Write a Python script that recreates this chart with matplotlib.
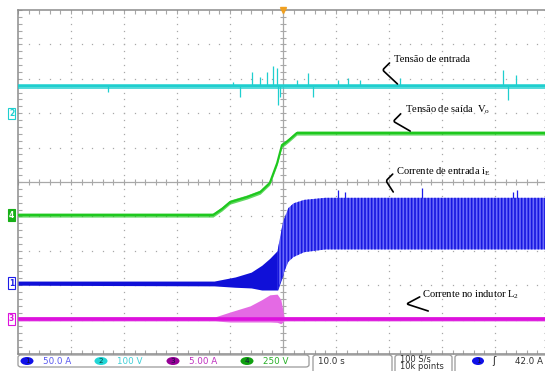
import numpy as np
import matplotlib.pyplot as plt
from matplotlib.patches import FancyBboxPatch, Ellipse

plt.rcParams['mathtext.fontset'] = 'custom'
plt.rcParams['mathtext.rm'] = 'Liberation Serif'
plt.rcParams['hatch.linewidth'] = 1.2

# scope channels: units per division and ground marker (div)
ch1_scale, ch1_pos = 50.0, -2.94    # input current, A
ch2_scale, ch2_pos = 100.0, 2.0     # input voltage, V
ch3_scale, ch3_pos = 5.0, -3.98     # inductor L2 current, A
ch4_scale, ch4_pos = 250.0, -0.96   # output voltage, V

# ch2 - input voltage (V)
vin_t = [-50, 50]
vin = [78, 78]
vin_noise = 8
vin_spike_t = [-33, -9.4, -8.1, -5.8, -4.3, -3.0, -1.9, -1.1, -0.9, -0.6, 2.6, 4.7, 5.7, 10.4, 12.3, 14.5, 22, 41.5, 42.4, 44]
vin_spike_v = [61, 90, 47, 119, 105, 119, 137, 131, 23, 47, 96, 116, 47, 96, 102, 96, 102, 125, 38, 110]

# ch4 - output voltage (V)
vo_t = [-50, -13.2, -11.5, -10, -6.8, -4.3, -2.5, -1.1, -0.2, 0.4, 1.3, 2.6, 50]
vo = [0, 0, 45, 94, 131, 167, 233, 378, 509, 523, 552, 596, 596]
vo_noise = 15

# ch1 - input current envelope (A)
ie_t = [-50, -13, -9, -6, -4, -2.5, -1, 0, 1, 2, 4, 8, 50]
ie_top = [3, 3, 9, 16, 26, 36, 48, 89, 109, 116, 121, 124, 124]
ie_bot = [-3, -4, -6, -7, -10, -10, -10, 12, 31, 38, 45, 49, 49]
ie_spike_t = [10.4, 11.7, 26.2, 43.4, 44.2]
ie_spike_v = [135, 132, 139, 133, 135]

# ch3 - inductor current (A)
il_t = [-50, -12.8, -10, -6.2, -4, -2.5, -1.1, -0.4, 0.2, 50]
il_top = [0.3, 0.3, 1.0, 1.9, 2.8, 3.5, 3.6, 2.8, 0.3, 0.3]
il_bot = [-0.3, -0.3, -0.45, -0.45, -0.45, -0.45, -0.5, -0.7, -0.3, -0.3]
il_noise = 0.3

c1, c2, c3, c4 = '#1c1ce8', '#1fcfcf', '#dd11dd', '#1ec81e'
grid_c = '#a8a8a8'


def to_div(v, scale, pos):
    return np.asarray(v, dtype=float) / scale + pos


fig = plt.figure(figsize=(5.45, 3.71), dpi=100)
ax = fig.add_axes([18 / 545, 17 / 371, 530 / 545, 344 / 371])
ax.set_xlim(-50, 50)
ax.set_ylim(-5, 5)

# graticule: dotted division lines, solid centre cross with minor ticks
xmin_ = np.arange(-50, 51, 2)
ymin_ = np.round(np.arange(-5, 5.01, 0.2), 2)
for gx in range(-40, 50, 10):
    if gx != 0:
        ax.plot(np.full(ymin_.size, gx), ymin_, ls='none', marker='s', ms=0.9, mew=0, color=grid_c, zorder=1)
for gy in range(-4, 5):
    if gy != 0:
        ax.plot(xmin_, np.full(xmin_.size, gy), ls='none', marker='s', ms=0.9, mew=0, color=grid_c, zorder=1)
ax.axhline(0, color=grid_c, lw=0.9, zorder=1)
ax.axvline(0, color=grid_c, lw=0.9, zorder=1)
ax.plot(xmin_, np.zeros(xmin_.size), ls='none', marker='|', ms=4, mew=0.8, color=grid_c, zorder=1)
ax.plot(np.zeros(ymin_.size), ymin_, ls='none', marker='_', ms=4, mew=0.8, color=grid_c, zorder=1)
ax.set_xticks(xmin_)
ax.set_yticks(ymin_)
ax.tick_params(direction='in', length=3, width=0.8, color=grid_c, labelbottom=False, labelleft=False,
               top=True, right=True)
for s in ax.spines.values():
    s.set_color('#8c8c8c')
    s.set_linewidth(1.1)

# ch2 input voltage
y2 = to_div(vin, ch2_scale, ch2_pos)
ax.fill_between(vin_t, to_div(np.array(vin) - vin_noise, ch2_scale, ch2_pos),
                to_div(np.array(vin) + vin_noise, ch2_scale, ch2_pos), color=c2, lw=0, alpha=0.75, zorder=3)
ax.plot(vin_t, y2, color=c2, lw=1.5, zorder=3)
ax.vlines(vin_spike_t, y2[0], to_div(vin_spike_v, ch2_scale, ch2_pos), color=c2, lw=0.9, zorder=3)

# ch4 output voltage
y4 = to_div(vo, ch4_scale, ch4_pos)
ax.fill_between(vo_t, to_div(np.array(vo) - vo_noise, ch4_scale, ch4_pos),
                to_div(np.array(vo) + vo_noise, ch4_scale, ch4_pos), color=c4, lw=0, alpha=0.7, zorder=3)
ax.plot(vo_t, y4, color=c4, lw=1.5, zorder=3)

# ch1 input current
t1 = np.array(ie_t, dtype=float)
top1 = to_div(ie_top, ch1_scale, ch1_pos)
bot1 = to_div(ie_bot, ch1_scale, ch1_pos)
ax.fill_between(t1, bot1, top1, where=t1 <= 0, color='#1010d8', lw=0, zorder=4)
ax.fill_between(t1, bot1, top1, where=t1 >= -1, facecolor='#6c6cfa', edgecolor='#1616e0',
                hatch='|||||', lw=0, zorder=4)
ax.vlines(ie_spike_t, top1[-1], to_div(ie_spike_v, ch1_scale, ch1_pos), color=c1, lw=0.9, zorder=4)

# ch3 inductor current
t3 = np.array(il_t, dtype=float)
ax.fill_between(t3, to_div(il_bot, ch3_scale, ch3_pos), to_div(il_top, ch3_scale, ch3_pos),
                color='#e46ae4', lw=0, zorder=3)
ax.fill_between([-50, 50], to_div([-il_noise] * 2, ch3_scale, ch3_pos),
                to_div([il_noise] * 2, ch3_scale, ch3_pos), color=c3, lw=0, alpha=0.8, zorder=3)
ax.plot([-50, 50], to_div([0, 0], ch3_scale, ch3_pos), color=c3, lw=1.3, zorder=3)

# trigger position marker
ax.plot([0], [5], marker='v', ms=5, color='#f0a020', clip_on=False, zorder=6)

# channel ground markers
ytr = ax.get_yaxis_transform()
for num, pos, col, filled in [('2', ch2_pos, c2, False), ('4', ch4_pos, '#18b018', True),
                              ('1', ch1_pos, c1, False), ('3', ch3_pos, c3, False)]:
    ax.text(-0.012, pos, num, transform=ytr, ha='center', va='center', fontsize=5.5,
            color='white' if filled else col, fontweight='bold',
            bbox=dict(boxstyle='square,pad=0.15', fc=col if filled else 'white', ec=col, lw=0.8), clip_on=False)

# labels with bracket leaders
labels = ['Tensão de entrada', 'Tensão de saída  $\\mathregular{V_o}$',
          'Corrente de entrada $\\mathregular{i_E}$', 'Corrente no indutor $\\mathregular{L_2}$']
label_xy = [(20.9, 3.55), (23.1, 2.1), (21.4, 0.3), (26.3, -3.27)]
leader_a = [(20.1, 3.46), (22.2, 1.98), (20.7, 0.23), (25.8, -3.34)]
leader_b = [(21.6, 2.85), (24.0, 1.48), (20.8, -0.29), (27.4, -3.75)]
leader_ang = [(45, -43), (45, -30), (45, -57), (28, -18)]
for txt, (tx, ty), a, b, (aa, ab) in zip(labels, label_xy, leader_a, leader_b, leader_ang):
    ax.text(tx, ty, txt, fontsize=7.6, family='Liberation Serif', ha='left', va='center', zorder=7)
    ax.annotate('', xy=b, xytext=a,
                arrowprops=dict(arrowstyle='-', lw=1.2, color='black', shrinkA=0, shrinkB=0,
                                connectionstyle=f'angle,angleA={aa},angleB={ab},rad=2'), zorder=7)


# status bar along the bottom
def fx(x):
    return x / 545


def fy(y):
    return 1 - y / 371


box_kw = dict(boxstyle='round,pad=0,rounding_size=0.006', fc='white', ec='#9a9a9a', lw=0.9,
              transform=fig.transFigure, clip_on=False)
for x0, x1, y1 in [(18, 309, 367), (313, 392, 380), (395, 452, 380), (455, 548, 380)]:
    fig.patches.append(FancyBboxPatch((fx(x0), fy(y1)), fx(x1) - fx(x0), fy(355) - fy(y1), **box_kw))

scales_txt = ['50.0 A', '100 V', '5.00 A', '250 V']
chip_x = [27, 101, 173, 247]
chip_c = ['#1010e8', '#22d6d6', '#960096', '#10a010']
txt_c = ['#5858f0', '#40d0d8', '#c030c0', '#28b028']
for num, cx, cc, tc, s in zip(['1', '2', '3', '4'], chip_x, chip_c, txt_c, scales_txt):
    fig.patches.append(Ellipse((fx(cx), fy(361)), fx(13), 8 / 371, fc=cc, ec='none', transform=fig.transFigure))
    fig.text(fx(cx), fy(361), num, ha='center', va='center', fontsize=5.2, color='#101040' if num != '2' else '#0a4040')
    fig.text(fx(cx + 16), fy(361), s, ha='left', va='center', fontsize=6.3, color=tc)

fig.text(fx(318), fy(361), '10.0 s', ha='left', va='center', fontsize=6.3, color='#303030')
fig.text(fx(400), fy(359), '100 S/s', ha='left', va='center', fontsize=6.0, color='#303030')
fig.text(fx(400), fy(366.5), '10k points', ha='left', va='center', fontsize=6.0, color='#303030')
fig.patches.append(Ellipse((fx(478), fy(361)), fx(12), 8 / 371, fc='#1010e8', ec='none', transform=fig.transFigure))
fig.text(fx(478), fy(361), '1', ha='center', va='center', fontsize=5.2, color='#101040')
fig.text(fx(494), fy(361), 'ʃ', ha='center', va='center', fontsize=7, color='#202020')
fig.text(fx(515), fy(361), '42.0 A', ha='left', va='center', fontsize=6.3, color='#303030')

fig.savefig('out.png', dpi=100)
